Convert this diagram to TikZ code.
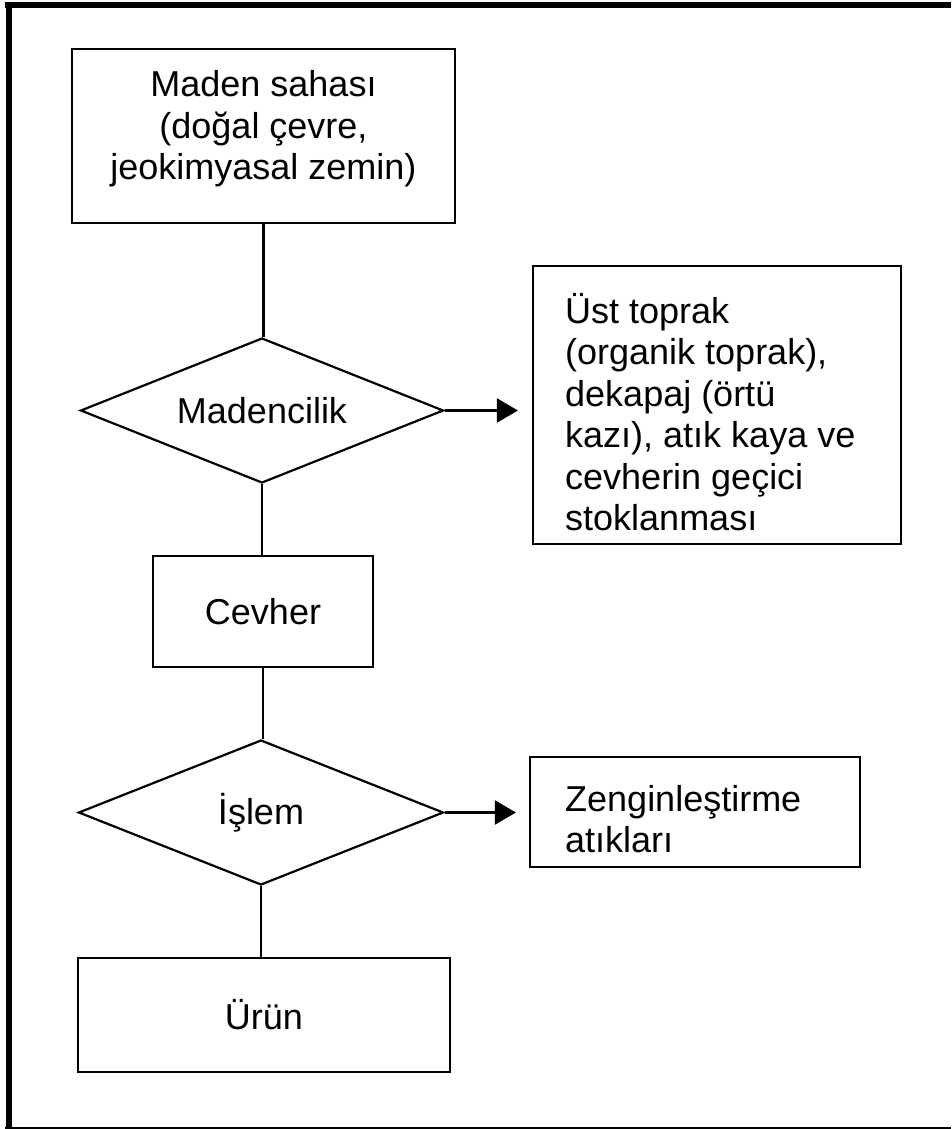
\documentclass[tikz,border=0pt]{standalone}
\usepackage{fontspec}
\setmainfont{Liberation Sans}
\usetikzlibrary{shapes.geometric,arrows.meta}
\begin{document}
\begin{tikzpicture}[x=1pt,y=-1pt,
  box/.style={draw=black, line width=2.2pt, inner sep=0pt, rectangle},
  decision/.style={draw=black, line width=2.2pt, diamond, inner sep=0pt, aspect=2.5},
  txt/.style={font=\fontsize{36}{41.5}\selectfont, inner sep=0pt},
  conn/.style={draw=black, line width=2.2pt},
  arr/.style={draw=black, line width=2.2pt, -{Triangle[length=21pt,width=24pt]}},
  framebar/.style={fill=black}]
\useasboundingbox (0,0) rectangle (951,1129);
% frame
\fill[framebar] (5,2) rectangle (951,8);
\fill[framebar] (6,2) rectangle (12,1129);
\fill[framebar] (5,1126.5) rectangle (951,1129);
% nodes
\node[box, minimum width=383pt, minimum height=174pt] (site) at (263.5,136) {};
\node[txt, anchor=base] (sitetext) at (263.5,97)
  {\parbox[t]{383pt}{\centering Maden sahası\\(doğal çevre,\\jeokimyasal zemin)}};
\node[decision, txt, minimum width=363pt, minimum height=145pt] (mining) at (262,410.5) {Madencilik};
\node[box, minimum width=368pt, minimum height=278pt] (stock) at (717,405) {};
\node[txt, anchor=base west] (stocktext) at (565,323)
  {\parbox[t]{330pt}{\raggedright Üst toprak\\(organik toprak),\\dekapaj (örtü\\kazı), atık kaya ve\\cevherin geçici\\stoklanması}};
\node[box, txt, minimum width=220pt, minimum height=111pt] (ore) at (263,611.5) {Cevher};
\node[decision, txt, minimum width=365pt, minimum height=145pt] (process) at (261,812.5) {İşlem};
\node[box, minimum width=330pt, minimum height=110pt] (tailings) at (695,812) {};
\node[txt, anchor=base west] (tailtext) at (565,811)
  {\parbox[t]{290pt}{\raggedright Zenginleştirme\\atıkları}};
\node[box, txt, minimum width=372pt, minimum height=114pt] (product) at (264,1015) {Ürün};
% connectors
\draw[conn] (site.south) -- (site.south |- mining.north);
\draw[conn] (mining.south) -- (mining.south |- ore.north);
\draw[conn] (ore.south) -- (ore.south |- process.north);
\draw[conn] (process.south) -- (process.south |- product.north);
\draw[arr, shorten >=14pt] (mining.east) -- (mining.east -| stock.west);
\draw[arr, shorten >=13pt] (process.east) -- (process.east -| tailings.west);
\end{tikzpicture}
\end{document}
